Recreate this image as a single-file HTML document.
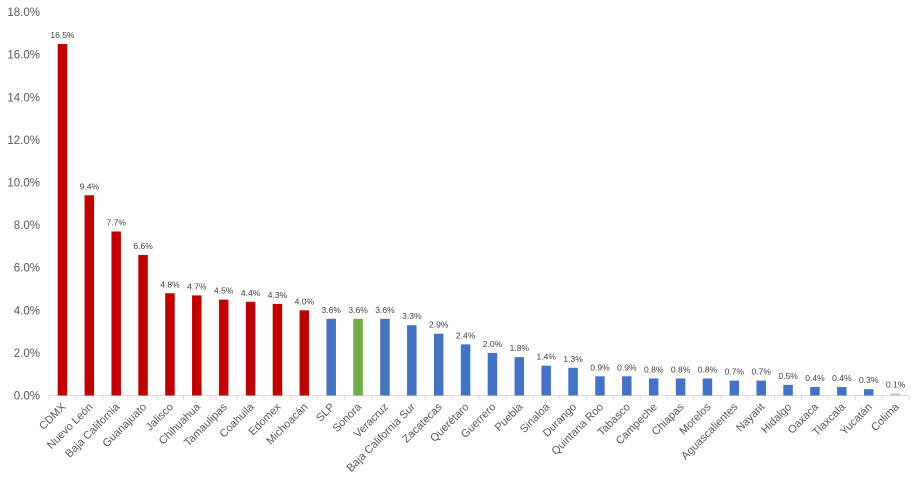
<!DOCTYPE html>
<html><head><meta charset="utf-8"><style>
body{margin:0;background:#fff;}
svg{display:block;font-family:"Liberation Sans",sans-serif;}
</style></head><body>
<svg id="chart" width="921" height="485" viewBox="0 0 921 485"></svg>
<script>
const categories=["CDMX","Nuevo León","Baja California","Guanajuato","Jalisco","Chihuahua","Tamaulipas","Coahuila","Edomex","Michoacán","SLP","Sonora","Veracruz","Baja California Sur","Zacatecas","Querétaro","Guerrero","Puebla","Sinaloa","Durango","Quintana Roo","Tabasco","Campeche","Chiapas","Morelos","Aguascalientes","Nayarit","Hidalgo","Oaxaca","Tlaxcala","Yucatán","Colima"];
const values=[16.5,9.4,7.7,6.6,4.8,4.7,4.5,4.4,4.3,4.0,3.6,3.6,3.6,3.3,2.9,2.4,2.0,1.8,1.4,1.3,0.9,0.9,0.8,0.8,0.8,0.7,0.7,0.5,0.4,0.4,0.3,0.1];
const groups=["red","red","red","red","red","red","red","red","red","red","blue","green","blue","blue","blue","blue","blue","blue","blue","blue","blue","blue","blue","blue","blue","blue","blue","blue","blue","blue","blue","light"];
const yTicks=[0,2,4,6,8,10,12,14,16,18];
const colors={red:"#C00000",blue:"#4472C4",green:"#70AD47",light:"#B4C7E7"};
const svg=document.getElementById('chart');
const NS="http://www.w3.org/2000/svg";
const x0=49,x1=909,y0=395.5,pxPer=21.3;
const bw=(x1-x0)/categories.length;
const y=v=>y0-v*pxPer;
const xc=i=>x0+bw*(i+0.5);
function mk(t,a){const e=document.createElementNS(NS,t);for(const k in a)e.setAttribute(k,a[k]);svg.appendChild(e);return e;}
yTicks.forEach(t=>{
 const e=mk('text',{x:40,y:y(t)+4,'text-anchor':'end','font-size':11.5,fill:'#595959'});
 
 
 e.textContent=t.toFixed(1)+'%';
});
const ax=mk('line',{x1:x0,x2:x1,y1:y0,y2:y0,stroke:'#D9D9D9','stroke-width':1});


for(let i=0;i<=categories.length;i++){
 const t=mk('line',{x1:x0+bw*i,x2:x0+bw*i,y1:y0,y2:y0+4,stroke:'#D9D9D9'});
 
 
}
categories.forEach((c,i)=>{
 const v=values[i],cx=xc(i),w=9.5;
 const r=mk('rect',{x:cx-w/2,y:y(v),width:w,height:v*pxPer,fill:colors[groups[i]]});
 
 
 const l=mk('text',{x:cx,y:y(v)-6,'text-anchor':'middle','font-size':8.5,fill:'#404040'});
 
 
 l.textContent=v.toFixed(1)+'%';
 const cl=mk('text',{x:cx+4,y:y0+12,'text-anchor':'end','font-size':11,fill:'#595959',transform:`rotate(-45 ${cx+4} ${y0+12})`});
 
 
 cl.textContent=c;
});
</script>
</body></html>
